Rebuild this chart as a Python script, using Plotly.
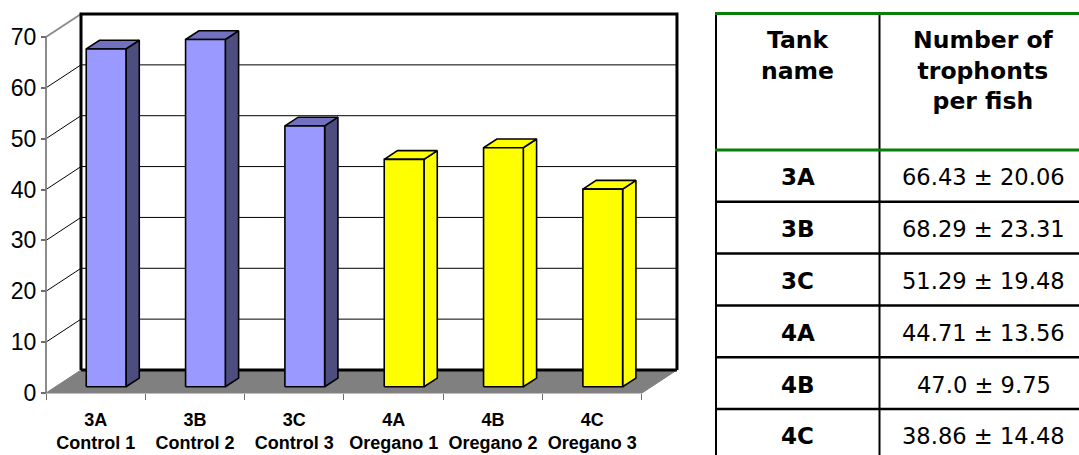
import plotly.graph_objects as go

# ---- data -------------------------------------------------------------
tanks = ["3A", "3B", "3C", "4A", "4B", "4C"]
groups = ["Control 1", "Control 2", "Control 3", "Oregano 1", "Oregano 2", "Oregano 3"]
trophonts_mean = [66.43, 68.29, 51.29, 44.71, 47.0, 38.86]
trophonts_sd = [20.06, 23.31, 19.48, 13.56, 9.75, 14.48]
y_ticks = [0, 10, 20, 30, 40, 50, 60, 70]
table_header = ["Tank<br>name", "Number of<br>trophonts<br>per fish"]

# ---- layout constants --------------------------------------------------
W, H = 1079, 455
AX_LEFT_PX = 46          # front vertical axis
AX_ZERO_PX = 393         # value 0 on the front plane
PX_PER_CAT = 99.33
PX_PER_UNIT = 356 / 70
PLOT_RIGHT_PX = 700

# 3-D depth of the floor / walls, converted to data units
DX = 35 / PX_PER_CAT
DY = 23 / PX_PER_UNIT
F_FRONT, F_BACK = 0.27, 0.65      # bar front/back planes as depth fractions
BAR_W, BAR_C = 0.40, 0.51
YMAX = 70
N = len(tanks)

BLUE = dict(front="#9999FF", side="#4D4D80", top="#7171C0")
YELLOW = dict(front="#FFFF00", side="#FFFF00", top="#FFFF00")
palette = [BLUE, BLUE, BLUE, YELLOW, YELLOW, YELLOW]

fig = go.Figure()


def poly(xs, ys, fill, line_color="black", width=1.6):
    fig.add_trace(go.Scatter(
        x=xs, y=ys, mode="lines", fill="toself", fillcolor=fill,
        line=dict(color=line_color, width=width), hoverinfo="skip",
        showlegend=False))


def seg(xs, ys, color, width):
    fig.add_trace(go.Scatter(
        x=xs, y=ys, mode="lines", line=dict(color=color, width=width),
        hoverinfo="skip", showlegend=False))


# floor
poly([0, N, N + DX, DX, 0], [0, 0, DY, DY, 0], "#808080", "#808080", 1)

# side wall grid lines (front axis -> back wall)
for v in y_ticks[1:-1]:
    seg([0, DX], [v, v + DY], "black", 1)
seg([0, DX], [YMAX, YMAX + DY], "#8C8C8C", 2)

# back wall grid lines
for v in y_ticks[1:-1]:
    seg([DX, N + DX], [v + DY, v + DY], "black", 1)

# back wall frame
seg([DX, DX, N + DX, N + DX], [DY, YMAX + DY, YMAX + DY, DY], "black", 3)
seg([DX, N + DX], [DY, DY], "black", 3)

# front vertical axis line
seg([0, 0], [0, YMAX], "#8C8C8C", 2)

# bars
for i, (v, col) in enumerate(zip(trophonts_mean, palette)):
    x0 = i + BAR_C - BAR_W / 2
    x1 = i + BAR_C + BAR_W / 2
    fx, fy = F_FRONT * DX, F_FRONT * DY
    bx, by = F_BACK * DX, F_BACK * DY
    # side face
    poly([x1 + fx, x1 + bx, x1 + bx, x1 + fx, x1 + fx],
         [fy, by, v + by, v + fy, fy], col["side"])
    # top face
    poly([x0 + fx, x1 + fx, x1 + bx, x0 + bx, x0 + fx],
         [v + fy, v + fy, v + by, v + by, v + fy], col["top"])
    # front face
    poly([x0 + fx, x1 + fx, x1 + fx, x0 + fx, x0 + fx],
         [fy, fy, v + fy, v + fy, fy], col["front"])

# ---- table ---------------------------------------------------------------
TBL_LEFT, TBL_DIV, TBL_RIGHT = 716, 879.5, 1088
TBL_TOP, HDR_BOTTOM, ROW_H = 13.5, 150, 51.8
GREEN = "#0B7D0B"


def px(x):
    return x / W


def py(y):
    return 1 - y / H


shapes = []
shapes.append(dict(type="line", xref="paper", yref="paper",
                   x0=px(TBL_LEFT), x1=px(TBL_LEFT), y0=py(TBL_TOP), y1=py(H + 5),
                   line=dict(color="black", width=2)))
shapes.append(dict(type="line", xref="paper", yref="paper",
                   x0=px(TBL_DIV), x1=px(TBL_DIV), y0=py(TBL_TOP), y1=py(H + 5),
                   line=dict(color="black", width=2)))
for r in range(1, N):
    yy = HDR_BOTTOM + r * ROW_H
    shapes.append(dict(type="line", xref="paper", yref="paper",
                       x0=px(TBL_LEFT), x1=px(W + 5), y0=py(yy), y1=py(yy),
                       line=dict(color="black", width=2.5)))
for yy in (TBL_TOP, HDR_BOTTOM):
    shapes.append(dict(type="line", xref="paper", yref="paper",
                       x0=px(TBL_LEFT - 1), x1=px(W + 5), y0=py(yy), y1=py(yy),
                       line=dict(color=GREEN, width=3)))

TBL_FONT = "DejaVu Sans, Verdana, sans-serif"
annotations = []
col_centers = [(TBL_LEFT + TBL_DIV) / 2, (TBL_DIV + TBL_RIGHT) / 2]
for c, txt in zip(col_centers, table_header):
    annotations.append(dict(
        xref="paper", yref="paper", x=px(c), y=py(24), xanchor="center",
        yanchor="top", showarrow=False, text="<b>" + txt + "</b>",
        font=dict(family=TBL_FONT, size=23.5, color="black")))
for r, (t, m, s) in enumerate(zip(tanks, trophonts_mean, trophonts_sd)):
    yc = HDR_BOTTOM + (r + 0.5) * ROW_H + 1.5
    annotations.append(dict(
        xref="paper", yref="paper", x=px(col_centers[0]), y=py(yc),
        xanchor="center", yanchor="middle", showarrow=False,
        text="<b>" + t + "</b>",
        font=dict(family=TBL_FONT, size=23, color="black")))
    annotations.append(dict(
        xref="paper", yref="paper", x=px(col_centers[1]), y=py(yc),
        xanchor="center", yanchor="middle", showarrow=False,
        text=f"{m} \u00b1 {s}",
        font=dict(family=TBL_FONT, size=22.6, color="black")))

# ---- axes ------------------------------------------------------------------
x_lo = -AX_LEFT_PX / PX_PER_CAT
x_hi = (PLOT_RIGHT_PX - AX_LEFT_PX) / PX_PER_CAT
y_lo = -(H - AX_ZERO_PX) / PX_PER_UNIT
y_hi = AX_ZERO_PX / PX_PER_UNIT

fig.update_layout(
    width=W, height=H,
    margin=dict(l=0, r=0, t=0, b=0),
    paper_bgcolor="white", plot_bgcolor="rgba(0,0,0,0)",
    showlegend=False,
    shapes=shapes, annotations=annotations,
    xaxis=dict(
        domain=[0, PLOT_RIGHT_PX / W], range=[x_lo, x_hi],
        anchor="free", position=(H - AX_ZERO_PX) / H,
        tickmode="array", tickvals=[i + 0.5 for i in range(N)],
        ticktext=[f"{t}<br>{g}" for t, g in zip(tanks, groups)],
        ticks="", showgrid=False, zeroline=False, showline=False,
        tickfont=dict(family="Liberation Sans, Arial, sans-serif", size=18,
                      color="black", weight="bold"),
        ticklabelstandoff=14,
        minor=dict(tickmode="array", tickvals=list(range(N + 1)),
                   ticks="outside", ticklen=6, tickwidth=1.2,
                   tickcolor="#6E6E6E", showgrid=False),
        fixedrange=True, automargin=False,
    ),
    yaxis=dict(
        domain=[0, 1], range=[y_lo, y_hi],
        anchor="free", position=AX_LEFT_PX / W,
        tickmode="array", tickvals=y_ticks,
        ticks="outside", ticklen=5, tickwidth=1.5, tickcolor="#6E6E6E",
        showgrid=False, zeroline=False, showline=False,
        tickfont=dict(family="Liberation Sans, Arial, sans-serif", size=23,
                      color="black"),
        fixedrange=True, automargin=False,
    ),
)

fig.write_html("out.html")
